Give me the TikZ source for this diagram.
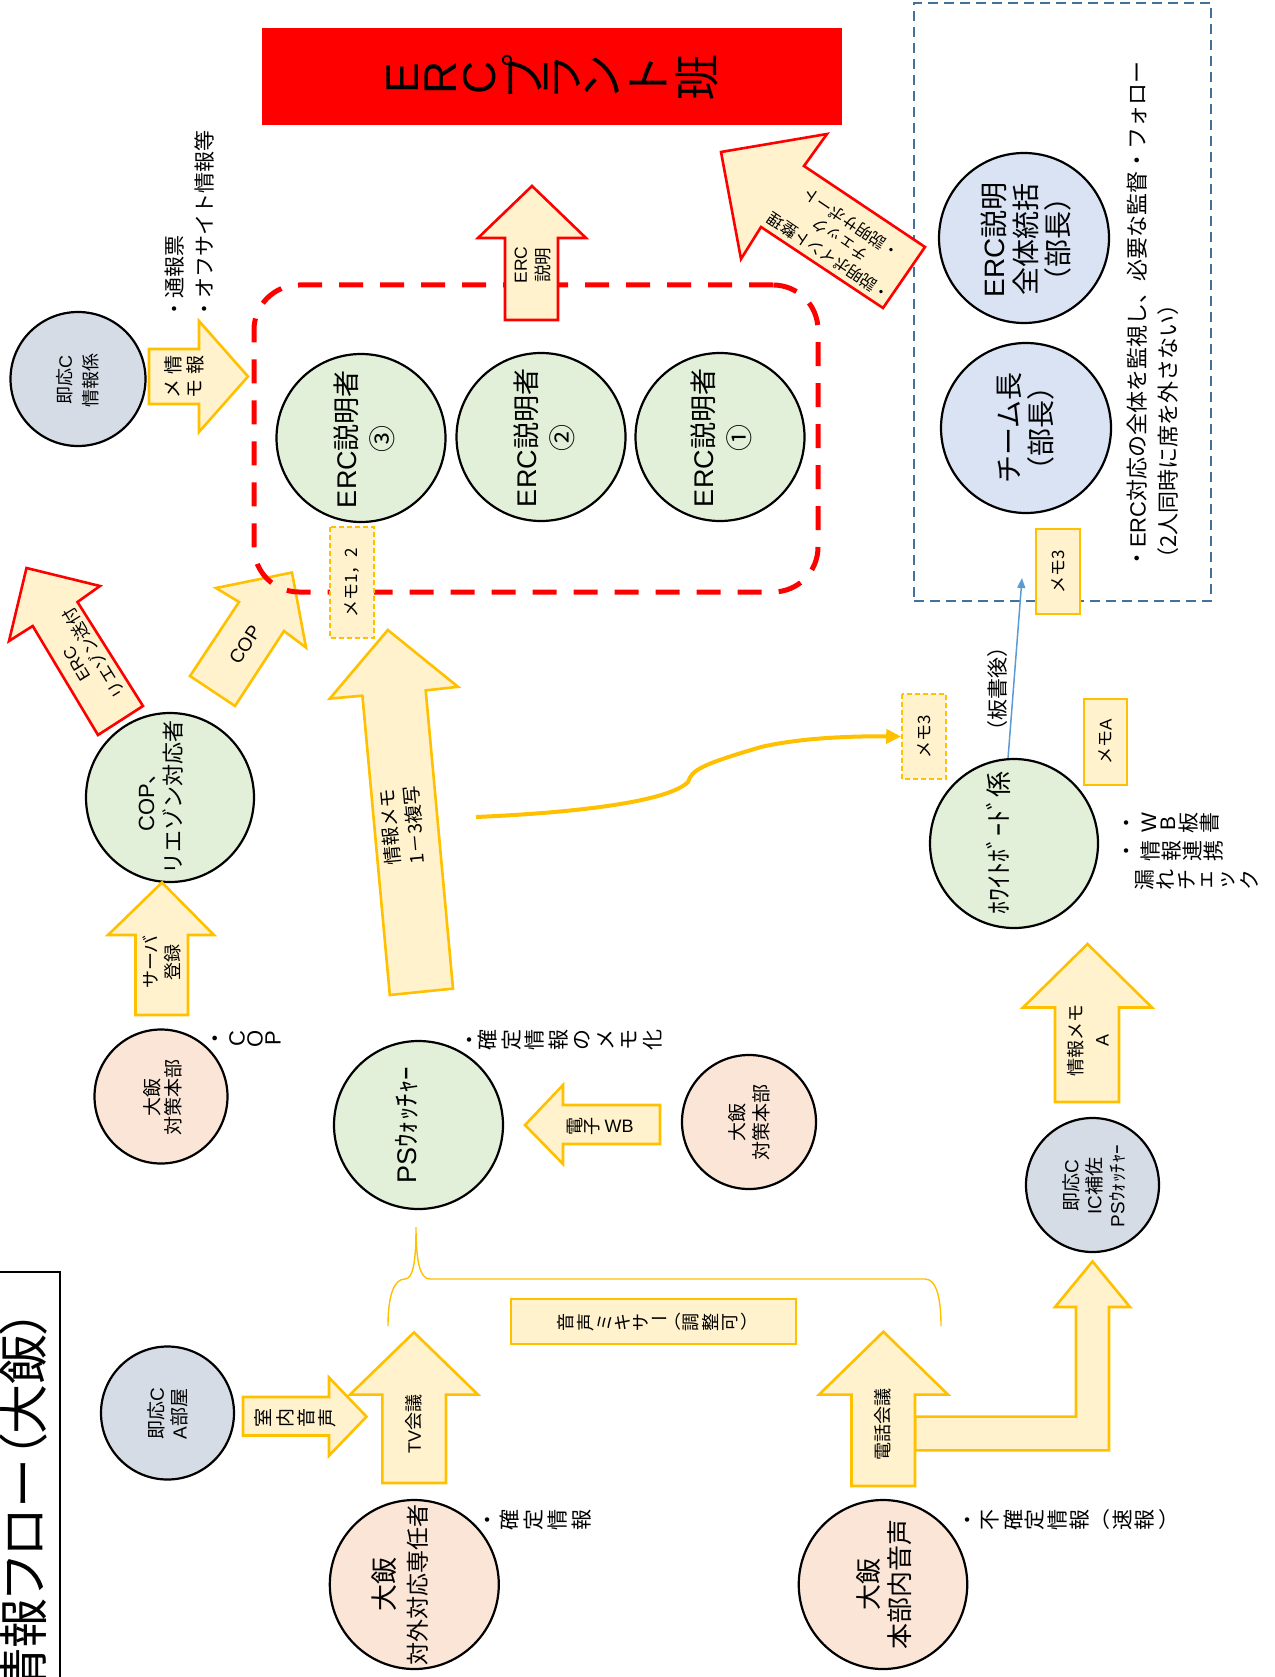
\documentclass[tikz,border=0pt]{standalone}
\usepackage{fontspec}
\usepackage{graphicx}
\setmainfont{Noto Sans CJK JP}
\newfontfamily\lat{Liberation Sans}
\newfontfamily\pjp[RawFeature=+palt]{Noto Sans CJK JP}
\usetikzlibrary{shapes.geometric,arrows.meta}
\definecolor{yfill}{HTML}{FFF2CC}
\definecolor{ostroke}{HTML}{FFC000}
\definecolor{gfill}{HTML}{E2F0D9}
\definecolor{bfill}{HTML}{DAE3F3}
\definecolor{sfill}{HTML}{D6DCE5}
\definecolor{pfill}{HTML}{FBE5D6}
\definecolor{dblue}{HTML}{41719C}
\definecolor{lblue}{HTML}{5B9BD5}
\definecolor{rred}{HTML}{FF0000}
\newcommand\myfz[2]{\fontsize{#1pt}{#2pt}\selectfont}
\newcommand\nr[1]{\rotatebox[origin=c]{-90}{#1}}
\newcommand\vtx[4]{\foreach \c/\xx [count=\i] in {#4} {\node[vch, font=\myfz{#3}{#3}] (#1\i) at (\xx,#2) {\c};}}
\begin{document}
\begin{tikzpicture}[x=1pt,y=-1pt,
  bub/.style={ellipse, draw=black, line width=2.2pt, inner sep=0pt},
  rt/.style={rotate=90, align=center, inner sep=0pt},
  vch/.style={rotate=90, inner sep=0pt},
  yarr/.style={draw=ostroke, fill=yfill, line width=2.6pt, line join=miter},
  rarr/.style={draw=rred, fill=yfill, line width=2.6pt, line join=miter},
  memo/.style={draw=ostroke, fill=yfill, line width=2.2pt, inner sep=0pt},
  dmemo/.style={draw=ostroke, fill=yfill, line width=1.6pt, dash pattern=on 5pt off 3pt, inner sep=0pt}]
\useasboundingbox (0,0) rectangle (1274,1677);

% supervisors box
\node[draw=dblue, line width=2.5pt, dash pattern=on 10pt off 6pt, minimum width=297pt, minimum height=598pt, inner sep=0pt] (bbox) at (1062.5,302) {};

% tilted red arrow to banner
\draw[rarr] (721,152) -- (827,134) -- (804,166) -- (925,247) -- (883,308) -- (761,227) -- (741,259) -- cycle;
\node[rotate=146, align=center, inner sep=0pt, font=\myfz{16}{20}] (t1) at (840,240) {・説明ポイント整理\\チェック\\・説明サポート};

% ERC liaison arrow
\draw[rarr] (26.5,568) -- (100,586) -- (77.5,602) -- (143,706) -- (98,735) -- (32.7,626) -- (9,641) -- cycle;
\node[rotate=121.6, align=center, inner sep=0pt, font=\myfz{17}{21}] (t2) at (86,658) {{\lat ERC}\\リエゾン送付};

% COP arrow
\draw[yarr] (292,572.5) -- (306,647.5) -- (284,631) -- (235,706) -- (190,676) -- (239,602) -- (216,588) -- cycle;
\node[rotate=56.8, inner sep=0pt, font=\lat\myfz{19}{19}] (t3) at (245,645) {COP};

% red dashed group
\node[draw=rred, line width=5pt, dash pattern=on 24pt off 17pt, rounded corners=45pt, minimum width=564pt, minimum height=307pt, inner sep=0pt] (rbox) at (536,438.5) {};

% ERC explanation arrow
\draw[rarr] (505,320) -- (505,238) -- (478,238) -- (532,186) -- (586,238) -- (558,238) -- (558,320) -- cycle;
\node[rt, font=\myfz{17.5}{23}] (t4) at (533,265) {{\lat ERC}\\説明};

% banner
\node[fill=rred, minimum width=580pt, minimum height=97pt, inner sep=0pt] (ban) at (552,76.5) {};
\vtx{bn}{78}{46}{{\lat E}/403,{\lat R}/441,{\lat C}/480,プ/522,ラ/562,ン/602,ト/648,班/697}

% circles
\node[bub, fill=sfill, minimum width=135pt, minimum height=134pt] (jcj) at (78,379) {};
\node[rt, font=\myfz{18}{26}] (jcjt) at (78,380) {即応{\lat C}\\情報係};
\node[bub, fill=gfill, minimum width=169pt, minimum height=168pt] (e3) at (361,438) {};
\node[bub, fill=gfill, minimum width=169pt, minimum height=168pt] (e2) at (541,437) {};
\node[bub, fill=gfill, minimum width=169pt, minimum height=168pt] (e1) at (720,437) {};
\node[rt, font=\myfz{27}{36}] (e3t) at (364,439) {{\lat ERC}説明者\\③};
\node[rt, font=\myfz{27}{36}] (e2t) at (544,438) {{\lat ERC}説明者\\②};
\node[rt, font=\myfz{27}{36}] (e1t) at (721,438) {{\lat ERC}説明者\\①};
\node[bub, fill=bfill, minimum width=170pt, minimum height=170pt] (tot) at (1024,238) {};
\node[rt, font=\myfz{28}{32}] (tott) at (1026,240) {{\lat ERC}説明\\全体統括\\（部長）};
\node[bub, fill=bfill, minimum width=170pt, minimum height=170pt] (tl) at (1026,428) {};
\node[rt, font=\myfz{28}{32}] (tlt) at (1026,428) {チーム長\\（部長）};
\node[bub, fill=gfill, minimum width=168pt, minimum height=169pt] (cop) at (170,797.5) {};
\node[rt, font=\myfz{22}{27.5}] (copt) at (161,797) {{\lat COP}、\\リエゾン対応者};
\node[bub, fill=gfill, minimum width=168pt, minimum height=169pt] (wbk) at (1014,843.5) {};
\node[rt, font=\myfz{26}{26}] (wbkt) at (998,842.5) {ﾎﾜｲﾄﾎﾞｰﾄﾞ係};
\node[bub, fill=pfill, minimum width=133pt, minimum height=134pt] (hq1) at (161,1096.5) {};
\node[rt, font=\myfz{19}{21}] (hq1t) at (163,1097) {大飯\\対策本部};
\node[bub, fill=gfill, minimum width=169pt, minimum height=168pt] (psw) at (418.5,1125) {};
\node[rt, font=\myfz{27}{27}] (pswt) at (407,1125) {{\lat PS}ｳｫｯﾁｬｰ};
\node[bub, fill=pfill, minimum width=134pt, minimum height=134pt] (hq2) at (749,1122) {};
\node[rt, font=\myfz{19}{24}] (hq2t) at (749,1122) {大飯\\対策本部};
\node[bub, fill=sfill, minimum width=133pt, minimum height=134pt] (icc) at (1092.5,1185) {};
\node[rt, font=\myfz{19}{23}] (icct) at (1094,1186) {即応{\lat C}\\{\lat IC}補佐\\{\lat PS}ｳｫｯﾁｬｰ};
\node[bub, fill=sfill, minimum width=133pt, minimum height=133pt] (jca) at (167.5,1413) {};
\node[rt, font=\myfz{19}{22.6}] (jcat) at (168,1414) {即応{\lat C}\\{\lat A}部屋};
\node[bub, fill=pfill, minimum width=169pt, minimum height=169pt] (ext) at (414.3,1584.5) {};
\node[rt, font=\myfz{23}{32}] (extt) at (400,1584.5) {{\myfz{27}{32}大飯}\\対外対応専任者};
\node[bub, fill=pfill, minimum width=168.5pt, minimum height=169pt] (hvo) at (883,1584.5) {};
\node[rt, font=\myfz{26}{30.5}] (hvot) at (884,1584.5) {大飯\\本部内音声};

% block arrows
\draw[yarr] (149,349) -- (199,349) -- (199,321) -- (248,376.5) -- (199,432) -- (199,404) -- (149,404) -- cycle;
\vtx{mja}{364.5}{19}{情/173,報/195}
\vtx{mjb}{388.5}{19}{メ/173,モ/195}
\draw[yarr] (387.8,630) -- (458,686.8) -- (425.7,690.4) -- (453,988.6) -- (389.8,995) -- (362.4,695.7) -- (329.8,698.6) -- cycle;
\node[rotate=95.3, align=center, inner sep=0pt, font=\myfz{19}{24}] (t5) at (402,826) {情報メモ\\1－3複写};
\draw[yarr] (135.5,1015) -- (135.5,935) -- (108,935) -- (162,882.5) -- (214,935) -- (188,935) -- (188,1015) -- cycle;
\node[rt, font=\myfz{18}{22.5}] (t6) at (162,962) {サーバ\\登録};
\draw[yarr] (1055,1102) -- (1055,1007.5) -- (1023,1007.5) -- (1087.5,944) -- (1152,1007.5) -- (1119,1007.5) -- (1119,1102) -- cycle;
\node[rt, font=\myfz{18}{26}] (t7) at (1088,1040) {情報メモ\\{\lat A}};
\draw[yarr] (660,1105) -- (563,1105) -- (563,1085) -- (525,1125) -- (563,1164) -- (563,1144) -- (660,1144) -- cycle;
\vtx{dw}{1126}{18}{電/575,子/592.5,\nr{\lat WB}/619}
\draw[yarr] (243,1397) -- (329,1397) -- (329,1377.5) -- (366.5,1416.6) -- (329,1455.7) -- (329,1435.5) -- (243,1435.5) -- cycle;
\vtx{sn}{1418}{19}{室/263,内/285,音/306,声/327}
\draw[yarr] (382.4,1483) -- (382.4,1394.6) -- (350,1394.6) -- (414,1332.4) -- (478,1394.6) -- (446,1394.6) -- (446,1483) -- cycle;
\node[rt, font=\myfz{18}{18}] (t8) at (414,1424) {{\lat TV}会議};
\draw[yarr] (915,1416.6) -- (1076,1416.6) -- (1076,1307) -- (1055,1307) -- (1092.5,1261.4) -- (1130,1307) -- (1109,1307) -- (1109,1450.4) -- (915,1450.4) -- cycle;
\draw[yarr] (851.5,1486) -- (851.5,1394.6) -- (819,1394.6) -- (883.4,1331.7) -- (948,1394.6) -- (915,1394.6) -- (915,1486) -- cycle;
\node[rt, font=\myfz{18}{18}] (t9) at (883,1424) {電話会議};

% memo boxes
\node[memo, rotate=90, minimum width=85pt, minimum height=44pt, font=\myfz{17}{17}] (m3s) at (1058,571.5) {メモ3};
\node[dmemo, rotate=90, minimum width=85pt, minimum height=44pt, font=\myfz{17}{17}] (m3d) at (924,736.5) {メモ3};
\node[memo, rotate=90, minimum width=86pt, minimum height=43pt, font=\myfz{17}{17}] (mA) at (1105.5,742) {メモ{\lat A}};
\node[dmemo, rotate=90, minimum width=111pt, minimum height=44pt, font=\myfz{17}{17}] (m12) at (352,582.5) {メモ1，2};
\node[memo, minimum width=285pt, minimum height=45pt] (mix) at (653.5,1321.5) {};
\vtx{mx}{1322}{18}{音/566,声/586,ミ/605,キ/623,サ/641,\nr{ー}/659,\nr{（}/672,調/691,整/710,可/730,\nr{）}/749}

% brace
\draw[ostroke, line width=1.4pt] (388,1326) .. controls (388,1295) and (394,1279) .. (405,1279) .. controls (413,1279) and (416,1262) .. (416,1227) .. controls (416,1262) and (420,1279) .. (430,1279) -- (925,1279) .. controls (937,1279) and (941,1300) .. (941,1326);

% connectors
\coordinate (cs) at (476,817);
\draw[ostroke, line width=4pt, -{Triangle[length=15pt,width=14pt]}] (cs) .. controls (590,812) and (670,800) .. (688,782) .. controls (692,770) and (700,765) .. (761,747) .. controls (800,738) and (850,736) .. (m3d.north);
\coordinate (btip) at (1022,578);
\draw[lblue, line width=1.5pt, -{Triangle[length=10pt,width=8pt]}] (wbk.94) -- (btip);
\node[rt, font=\myfz{21}{21}] (bsg) at (998,689) {（板書後）};

% free texts
\node[rotate=90, align=left, anchor=north west, inner sep=0pt, font=\myfz{21}{30}] (n1) at (165,320) {・通報票\\・オフサイト情報等};
\node[rotate=90, align=left, anchor=north west, inner sep=0pt, font=\myfz{22}{31}] (n2) at (1127,570) {・{\lat ERC}対応の全体を監視し、必要な監督・フォロー\\（2人同時に席を外さない）};
\vtx{wa}{823}{21}{・/1129,{\lat W}/1149,{\lat B}/1168,板/1189,書/1210}
\vtx{wb}{851}{21}{・/1129.5,情/1150.5,報/1171.5,連/1192.5,携/1213.5}
\vtx{wc}{880}{21}{漏/1145,れ/1166,チ/1187,ェ/1207,ッ/1228,ク/1249}
\vtx{kt}{1040}{21}{・/472,確/488,定/511.5,情/535,報/558.5,の/582,メ/605.5,モ/629,化/652.5}
\vtx{cp}{1038.6}{22}{・/218,{\lat C}/237,{\lat O}/255,{\lat P}/273}
\vtx{kj}{1519.6}{21}{・/490,確/510,定/534,情/558,報/582}
\vtx{fk}{1519.6}{21}{・/970,不/990,確/1013,定/1035,情/1057,報/1080,\nr{（}/1100,速/1122,報/1144.5,\nr{）}/1169}

% title
\node[draw=black, line width=1.2pt, minimum width=62pt, minimum height=410pt, inner sep=0pt] (tbox) at (29,1477) {};
\node[rotate=90, anchor=east, inner sep=0pt, font=\pjp\myfz{50}{50}] (ttl) at (23,1309) {情報フロー（大飯）};
\end{tikzpicture}
\end{document}
